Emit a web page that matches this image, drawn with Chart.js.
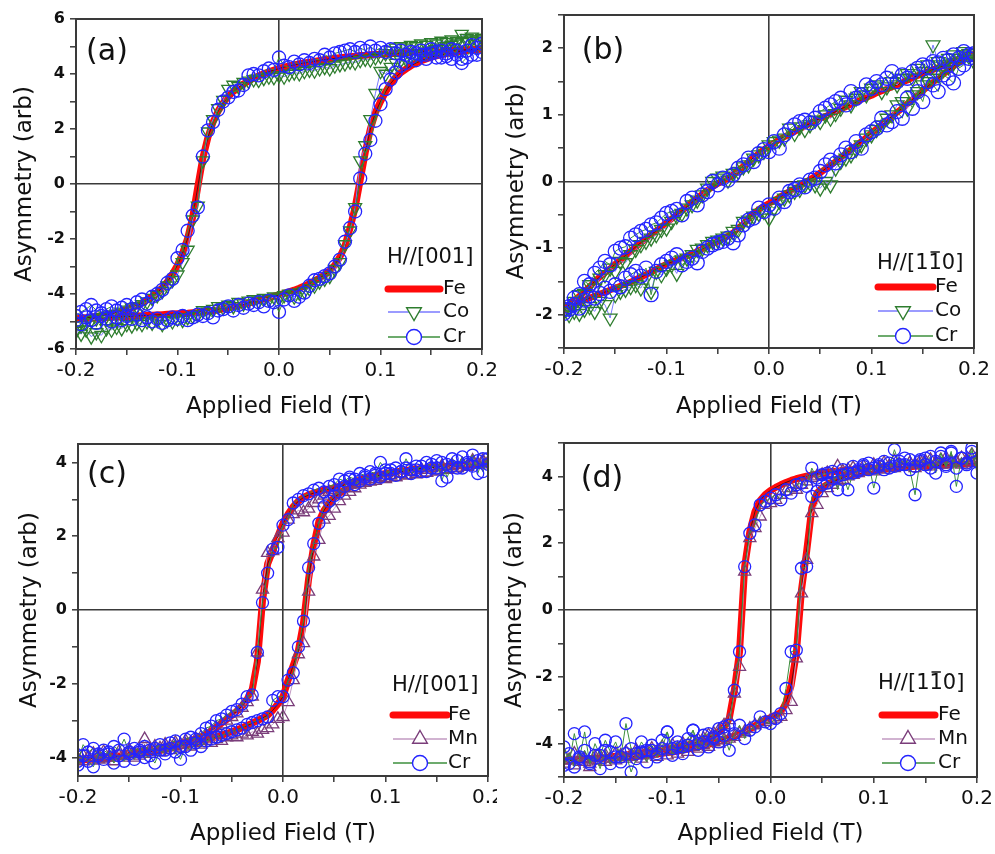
<!DOCTYPE html>
<html>
<head>
<meta charset="utf-8">
<title>Hysteresis loops</title>
<script src="https://cdn.jsdelivr.net/npm/chart.js@4.4.0/dist/chart.umd.min.js"></script>
<style>
  html, body { margin: 0; padding: 0; background: #fff; }
  #page { position: relative; width: 995px; height: 854px; overflow: hidden; }
  #page canvas { position: absolute; }
</style>
</head>
<body>
<div id="page">
  <canvas id="chartA" width="497" height="420" style="left:0;top:0"></canvas>
  <canvas id="chartB" width="498" height="420" style="left:497px;top:0"></canvas>
  <canvas id="chartC" width="497" height="434" style="left:0;top:420px"></canvas>
  <canvas id="chartD" width="498" height="434" style="left:497px;top:420px"></canvas>
</div>
<script>
// ---- data: applied field grid (T), shared by every loop ----
const FIELD = [
  -0.2, -0.195, -0.19, -0.185, -0.18, -0.175, -0.17, -0.165, -0.16,
  -0.155, -0.15, -0.145, -0.14, -0.135, -0.13, -0.125, -0.12, -0.115,
  -0.11, -0.105, -0.1, -0.095, -0.09, -0.085, -0.08, -0.075, -0.07,
  -0.065, -0.06, -0.055, -0.05, -0.045, -0.04, -0.035, -0.03, -0.025,
  -0.02, -0.015, -0.01, -0.005, 0, 0.005, 0.01, 0.015, 0.02,
  0.025, 0.03, 0.035, 0.04, 0.045, 0.05, 0.055, 0.06, 0.065,
  0.07, 0.075, 0.08, 0.085, 0.09, 0.095, 0.1, 0.105, 0.11,
  0.115, 0.12, 0.125, 0.13, 0.135, 0.14, 0.145, 0.15, 0.155,
  0.16, 0.165, 0.17, 0.175, 0.18, 0.185, 0.19, 0.195, 0.2
];

const X_TICKS = [-0.2, -0.15, -0.1, -0.05, 0, 0.05, 0.1, 0.15, 0.2];
const X_LABELS = [-0.2, -0.1, 0, 0.1, 0.2];
const Y_TICKS_A = [-6, -5, -4, -3, -2, -1, 0, 1, 2, 3, 4, 5, 6];
const Y_LABELS_A = [-6, -4, -2, 0, 2, 4, 6];
const Y_TICKS_B = [-2.5, -2, -1.5, -1, -0.5, 0, 0.5, 1, 1.5, 2, 2.5];
const Y_LABELS_B = [-2, -1, 0, 1, 2];
const Y_TICKS_C = [-4, -3, -2, -1, 0, 1, 2, 3, 4];
const Y_LABELS_C = [-4, -2, 0, 2, 4];
const Y_TICKS_D = [-5, -4, -3, -2, -1, 0, 1, 2, 3, 4, 5];
const Y_LABELS_D = [-4, -2, 0, 2, 4];

// "upper" = branch coming down from +0.2 T, "lower" = branch going up from -0.2 T
// both listed in the order of FIELD

// (a) H//[001]
const feUpperA = [
  -4.90, -4.88, -4.86, -4.84, -4.82, -4.79, -4.76, -4.72, -4.68,
  -4.63, -4.57, -4.50, -4.42, -4.33, -4.22, -4.10, -3.95, -3.77,
  -3.55, -3.28, -2.95, -2.52, -1.98, -1.20, -0.10, 0.95, 1.70,
  2.25, 2.65, 2.95, 3.18, 3.36, 3.51, 3.64, 3.75, 3.85,
  3.93, 4.01, 4.08, 4.14, 4.20, 4.25, 4.29, 4.33, 4.37,
  4.40, 4.43, 4.46, 4.49, 4.52, 4.55, 4.57, 4.59, 4.61,
  4.63, 4.65, 4.67, 4.68, 4.70, 4.71, 4.72, 4.73, 4.74,
  4.75, 4.76, 4.77, 4.78, 4.79, 4.80, 4.81, 4.82, 4.83,
  4.84, 4.85, 4.86, 4.87, 4.88, 4.88, 4.89, 4.90, 4.90
];
const feLowerA = [
  -4.90, -4.90, -4.89, -4.88, -4.88, -4.87, -4.86, -4.85, -4.84,
  -4.83, -4.82, -4.81, -4.80, -4.79, -4.78, -4.77, -4.76, -4.75,
  -4.74, -4.73, -4.72, -4.71, -4.70, -4.68, -4.67, -4.65, -4.63,
  -4.61, -4.58, -4.54, -4.50, -4.46, -4.42, -4.38, -4.33, -4.28,
  -4.23, -4.18, -4.13, -4.08, -4.03, -3.98, -3.92, -3.86, -3.79,
  -3.71, -3.62, -3.52, -3.42, -3.30, -3.15, -2.95, -2.65, -2.25,
  -1.60, -0.85, 0.15, 1.15, 2.00, 2.60, 3.00, 3.35, 3.65,
  3.88, 4.05, 4.18, 4.30, 4.40, 4.48, 4.55, 4.61, 4.66,
  4.70, 4.74, 4.77, 4.80, 4.83, 4.85, 4.87, 4.89, 4.90
];
const coUpperA = [
  -5.30, -5.15, -5.05, -4.95, -4.90, -4.85, -4.80, -4.75, -4.72,
  -4.65, -4.58, -4.50, -4.45, -4.38, -4.28, -4.15, -4.05, -3.90,
  -3.70, -3.50, -3.30, -2.85, -2.40, -1.30, -0.80, 0.85, 1.90,
  2.35, 2.75, 3.05, 3.45, 3.60, 3.55, 3.70, 3.75, 3.80,
  3.78, 3.85, 3.90, 3.88, 3.95, 3.90, 4.00, 4.05, 4.02,
  4.10, 4.15, 4.12, 4.20, 4.25, 4.20, 4.30, 4.35, 4.38,
  4.45, 4.42, 4.50, 4.55, 4.52, 4.60, 4.65, 4.75, 4.85,
  4.95, 5.00, 4.95, 5.05, 5.00, 5.10, 5.05, 5.15, 5.10,
  5.20, 5.15, 5.25, 5.20, 5.45, 5.30, 5.35, 5.25, 5.30
];
const coLowerA = [
  -5.35, -5.45, -5.30, -5.55, -5.40, -5.50, -5.25, -5.30, -5.20,
  -5.25, -5.10, -5.15, -5.05, -5.10, -5.00, -5.05, -4.95, -5.10,
  -4.95, -5.00, -4.90, -4.95, -4.85, -4.80, -4.75, -4.60, -4.65,
  -4.55, -4.45, -4.50, -4.40, -4.45, -4.30, -4.35, -4.25, -4.20,
  -4.25, -4.15, -4.20, -4.10, -4.15, -4.05, -4.00, -4.10, -3.95,
  -3.90, -3.80, -3.70, -3.55, -3.45, -3.35, -3.10, -2.85, -2.20,
  -1.70, -0.85, 0.85, 1.40, 2.35, 3.30, 4.10, 4.00, 4.25,
  4.40, 4.50, 4.55, 4.65, 4.70, 4.75, 4.80, 4.85, 4.90,
  4.95, 5.00, 5.05, 5.10, 5.15, 5.20, 5.25, 5.20, 5.30
];
const crUpperA = [
  -4.80, -4.65, -4.55, -4.40, -4.60, -4.70, -4.55, -4.45, -4.60,
  -4.50, -4.40, -4.55, -4.30, -4.20, -4.35, -4.10, -4.00, -3.85,
  -3.60, -3.45, -2.70, -2.40, -1.70, -1.15, -0.85, 1.00, 1.95,
  2.25, 2.70, 3.00, 3.15, 3.35, 3.40, 3.60, 3.95, 4.00,
  3.95, 4.10, 4.20, 4.15, 4.60, 4.30, 4.25, 4.45, 4.35,
  4.50, 4.40, 4.55, 4.50, 4.70, 4.60, 4.75, 4.80, 4.85,
  4.90, 4.80, 4.95, 4.85, 5.00, 4.85, 4.95, 4.80, 4.90,
  4.75, 4.85, 4.70, 4.80, 4.75, 4.85, 4.70, 4.90, 4.80,
  4.60, 4.75, 4.55, 4.85, 4.40, 4.60, 5.05, 4.70, 5.10
];
const crLowerA = [
  -4.95, -5.10, -4.85, -4.95, -5.05, -4.80, -4.90, -5.00, -4.85,
  -4.95, -4.80, -4.90, -4.75, -4.95, -4.85, -5.00, -4.90, -5.05,
  -4.95, -4.85, -4.90, -4.80, -4.95, -4.85, -4.75, -4.80, -4.70,
  -4.85, -4.60, -4.55, -4.45, -4.60, -4.40, -4.50, -4.35, -4.40,
  -4.30, -4.45, -4.25, -4.30, -4.65, -4.20, -4.05, -4.25, -4.10,
  -3.95, -3.70, -3.50, -3.45, -3.35, -3.25, -3.00, -2.75, -2.10,
  -1.60, -1.00, 0.20, 1.10, 1.60, 2.30, 2.90, 3.45, 3.80,
  4.05, 4.30, 4.40, 4.60, 4.50, 4.70, 4.55, 4.75, 4.60,
  4.85, 4.65, 4.90, 4.70, 4.55, 4.85, 4.70, 4.95, 4.80
];

// (b) H//[1-10]
const feUpperB = [
  -1.92, -1.86, -1.79, -1.72, -1.65, -1.58, -1.50, -1.43, -1.37,
  -1.31, -1.24, -1.18, -1.11, -1.05, -0.98, -0.92, -0.86, -0.80,
  -0.74, -0.68, -0.62, -0.56, -0.50, -0.44, -0.38, -0.31, -0.25,
  -0.19, -0.13, -0.08, -0.03, 0.01, 0.05, 0.10, 0.16, 0.23,
  0.29, 0.36, 0.42, 0.48, 0.53, 0.58, 0.63, 0.67, 0.71,
  0.75, 0.79, 0.83, 0.87, 0.91, 0.95, 0.98, 1.01, 1.05,
  1.09, 1.12, 1.16, 1.19, 1.23, 1.26, 1.29, 1.33, 1.36,
  1.39, 1.42, 1.45, 1.49, 1.52, 1.56, 1.59, 1.62, 1.65,
  1.68, 1.71, 1.74, 1.77, 1.81, 1.84, 1.87, 1.89, 1.91
];
const feLowerB = [
  -1.94, -1.90, -1.86, -1.82, -1.78, -1.75, -1.72, -1.69, -1.66,
  -1.63, -1.60, -1.57, -1.54, -1.51, -1.47, -1.44, -1.40, -1.36,
  -1.32, -1.28, -1.24, -1.21, -1.18, -1.15, -1.12, -1.09, -1.05,
  -1.01, -0.97, -0.93, -0.90, -0.86, -0.82, -0.77, -0.70, -0.64,
  -0.56, -0.48, -0.42, -0.37, -0.33, -0.29, -0.24, -0.19, -0.15,
  -0.11, -0.07, -0.02, 0.03, 0.08, 0.13, 0.19, 0.24, 0.30,
  0.36, 0.42, 0.48, 0.54, 0.60, 0.66, 0.73, 0.79, 0.85,
  0.91, 0.98, 1.04, 1.10, 1.17, 1.23, 1.30, 1.36, 1.43,
  1.49, 1.55, 1.61, 1.67, 1.73, 1.79, 1.84, 1.88, 1.91
];
const coUpperB = [
  -1.95, -1.90, -1.80, -1.70, -1.68, -1.55, -1.60, -1.45, -1.40,
  -1.30, -1.35, -1.20, -1.22, -1.10, -1.02, -0.95, -0.90, -0.85,
  -0.80, -0.72, -0.70, -0.60, -0.52, -0.48, -0.40, -0.35, -0.28,
  -0.20, -0.10, 0.00, 0.05, 0.08, 0.02, 0.12, 0.15, 0.22,
  0.25, 0.35, 0.40, 0.45, 0.55, 0.60, 0.62, 0.65, 0.80,
  0.72, 0.82, 0.78, 0.85, 0.92, 0.90, 1.00, 0.95, 1.02,
  1.10, 1.22, 1.15, 1.25, 1.35, 1.30, 1.40, 1.45, 1.35,
  1.42, 1.50, 1.45, 1.55, 1.62, 1.55, 1.70, 1.65, 1.75,
  2.05, 1.80, 1.75, 1.85, 1.90, 1.85, 1.95, 1.92, 1.80
];
const coLowerB = [
  -1.95, -2.00, -1.95, -1.98, -1.92, -1.88, -1.95, -1.80, -1.85,
  -2.05, -1.70, -1.65, -1.62, -1.58, -1.55, -1.60, -1.45, -1.65,
  -1.35, -1.40, -1.30, -1.25, -1.38, -1.18, -1.15, -1.10, -1.02,
  -1.00, -0.95, -0.90, -0.88, -0.85, -0.82, -0.75, -0.72, -0.60,
  -0.58, -0.52, -0.48, -0.45, -0.55, -0.40, -0.30, -0.25, -0.20,
  -0.15, -0.12, -0.05, -0.02, -0.05, -0.10, 0.00, -0.05, 0.20,
  0.30, 0.35, 0.40, 0.48, 0.55, 0.65, 0.70, 0.78, 0.85,
  0.95, 1.00, 1.15, 1.20, 1.10, 1.30, 1.35, 1.45, 1.50,
  1.55, 1.60, 1.68, 1.72, 1.78, 1.85, 1.90, 1.88, 1.92
];
const crUpperB = [
  -1.92, -1.88, -1.75, -1.70, -1.50, -1.55, -1.38, -1.30, -1.20,
  -1.25, -1.05, -1.00, -0.98, -0.85, -0.80, -0.75, -0.72, -0.65,
  -0.62, -0.55, -0.48, -0.45, -0.42, -0.50, -0.30, -0.25, -0.35,
  -0.20, -0.15, 0.00, -0.05, 0.05, 0.02, 0.10, 0.20, 0.25,
  0.35, 0.30, 0.42, 0.48, 0.45, 0.60, 0.50, 0.70, 0.78,
  0.85, 0.90, 0.92, 0.88, 0.95, 1.05, 1.10, 1.15, 1.20,
  1.25, 1.15, 1.35, 1.25, 1.30, 1.45, 1.40, 1.50, 1.45,
  1.55, 1.65, 1.50, 1.60, 1.55, 1.65, 1.70, 1.75, 1.72,
  1.80, 1.78, 1.85, 1.82, 1.90, 1.85, 1.95, 1.90, 1.92
];
const crLowerB = [
  -1.98, -1.92, -1.85, -1.90, -1.78, -1.72, -1.75, -1.68, -1.60,
  -1.65, -1.55, -1.58, -1.45, -1.40, -1.35, -1.42, -1.30, -1.70,
  -1.35, -1.25, -1.20, -1.15, -1.10, -1.25, -1.20, -1.15, -1.22,
  -1.05, -1.00, -0.95, -0.92, -0.90, -0.85, -0.92, -0.80, -0.65,
  -0.58, -0.55, -0.40, -0.45, -0.35, -0.40, -0.25, -0.30, -0.15,
  -0.12, -0.05, -0.08, 0.02, 0.05, 0.15, 0.25, 0.32, 0.28,
  0.40, 0.50, 0.45, 0.60, 0.50, 0.70, 0.75, 0.80, 0.95,
  0.85, 0.90, 1.05, 0.95, 1.25, 1.10, 1.35, 1.20, 1.50,
  1.45, 1.35, 1.60, 1.55, 1.48, 1.70, 1.75, 1.85, 1.90
];

// (c) H//[001]
const feUpperC = [
  -4.05, -4.04, -4.03, -4.02, -4.01, -4.00, -3.98, -3.96, -3.94,
  -3.91, -3.88, -3.86, -3.84, -3.82, -3.80, -3.78, -3.75, -3.72,
  -3.69, -3.66, -3.62, -3.58, -3.54, -3.49, -3.44, -3.37, -3.28,
  -3.18, -3.07, -2.97, -2.86, -2.74, -2.60, -2.42, -2.15, -1.40,
  0.25, 1.25, 1.60, 2.00, 2.35, 2.60, 2.80, 2.95, 3.05,
  3.12, 3.17, 3.21, 3.25, 3.28, 3.31, 3.35, 3.39, 3.44,
  3.48, 3.52, 3.56, 3.60, 3.63, 3.66, 3.69, 3.72, 3.74,
  3.76, 3.78, 3.80, 3.82, 3.83, 3.85, 3.86, 3.87, 3.88,
  3.89, 3.90, 3.91, 3.92, 3.93, 3.94, 3.95, 3.96, 3.97
];
const feLowerC = [
  -4.07, -4.06, -4.05, -4.04, -4.03, -4.02, -4.01, -3.99, -3.97,
  -3.95, -3.93, -3.91, -3.89, -3.87, -3.85, -3.83, -3.81, -3.78,
  -3.75, -3.72, -3.69, -3.66, -3.63, -3.60, -3.56, -3.52, -3.48,
  -3.44, -3.40, -3.35, -3.30, -3.25, -3.19, -3.13, -3.07, -3.00,
  -2.93, -2.85, -2.72, -2.55, -2.35, -1.90, -1.50, -1.10, -0.35,
  0.85, 1.75, 2.40, 2.70, 2.90, 3.05, 3.16, 3.25, 3.33,
  3.40, 3.47, 3.54, 3.60, 3.64, 3.67, 3.70, 3.72, 3.74,
  3.76, 3.78, 3.80, 3.82, 3.83, 3.85, 3.86, 3.87, 3.88,
  3.89, 3.90, 3.91, 3.92, 3.93, 3.94, 3.95, 3.96, 3.97
];
const mnUpperC = [
  -4.05, -3.95, -4.00, -3.90, -4.05, -3.85, -4.00, -3.95, -3.85,
  -3.95, -3.80, -3.90, -3.85, -3.50, -3.80, -3.70, -3.75, -3.65,
  -3.70, -3.60, -3.65, -3.55, -3.60, -3.50, -3.45, -3.40, -3.30,
  -3.20, -3.10, -3.00, -2.90, -2.80, -2.65, -2.50, -2.35, -1.15,
  0.55, 1.55, 1.60, 1.95, 2.10, 2.45, 2.60, 2.70, 2.65,
  2.75, 2.90, 3.00, 3.10, 3.20, 3.25, 3.30, 3.35, 3.40,
  3.42, 3.45, 3.50, 3.48, 3.55, 3.60, 3.58, 3.65, 3.60,
  3.70, 3.65, 3.75, 3.70, 3.80, 3.72, 3.85, 3.78, 3.90,
  3.82, 3.92, 3.85, 3.95, 3.88, 4.05, 3.95, 4.00, 3.95
];
const mnLowerC = [
  -4.05, -4.10, -4.00, -4.08, -3.95, -4.05, -4.00, -4.10, -3.95,
  -4.00, -3.90, -4.00, -3.95, -3.85, -3.90, -3.80, -3.85, -3.75,
  -3.80, -3.70, -3.75, -3.65, -3.70, -3.60, -3.65, -3.55, -3.60,
  -3.50, -3.55, -3.45, -3.40, -3.45, -3.35, -3.40, -3.30, -3.35,
  -3.25, -3.20, -3.10, -2.95, -2.90, -2.50, -1.90, -1.20, -0.90,
  0.50, 1.45, 1.90, 2.45, 2.55, 2.75, 2.95, 3.10, 3.20,
  3.30, 3.40, 3.45, 3.55, 3.50, 3.60, 3.55, 3.65, 3.60,
  3.70, 3.65, 3.75, 3.68, 3.80, 3.72, 3.85, 3.75, 3.88,
  3.80, 3.90, 3.85, 3.95, 3.90, 4.00, 3.95, 4.05, 4.00
];
const crUpperC = [
  -4.10, -3.65, -3.85, -3.75, -3.95, -3.80, -3.90, -3.70, -3.80,
  -3.50, -3.85, -3.75, -3.80, -3.70, -3.80, -3.75, -3.65, -3.80,
  -3.60, -3.55, -3.70, -3.50, -3.45, -3.50, -3.35, -3.20, -3.15,
  -3.00, -2.95, -2.85, -2.75, -2.70, -2.55, -2.35, -2.30, -1.15,
  0.20, 1.00, 1.65, 1.70, 2.30, 2.45, 2.90, 3.00, 3.10,
  3.15, 3.25, 3.30, 3.20, 3.35, 3.40, 3.55, 3.50, 3.60,
  3.55, 3.70, 3.65, 3.75, 3.70, 4.00, 3.80, 3.70, 3.85,
  3.75, 4.10, 3.80, 3.90, 3.75, 4.00, 3.85, 4.05, 3.50,
  3.95, 4.10, 3.85, 4.15, 3.95, 4.20, 3.70, 4.10, 3.95
];
const crLowerC = [
  -4.20, -3.95, -4.10, -4.25, -3.90, -4.05, -3.85, -4.15, -3.95,
  -4.10, -3.90, -4.05, -3.85, -4.00, -3.95, -4.15, -3.80, -3.90,
  -3.75, -3.85, -4.05, -3.70, -3.80, -3.60, -3.70, -3.55, -3.50,
  -3.45, -3.40, -3.35, -3.30, -3.25, -3.20, -3.10, -3.05, -3.00,
  -2.95, -2.90, -2.45, -2.35, -2.35, -1.90, -1.70, -1.00, -0.30,
  1.15, 1.80, 2.35, 2.80, 2.95, 3.10, 3.20, 3.35, 3.55,
  3.40, 3.50, 3.60, 3.55, 3.65, 3.60, 3.70, 3.80, 3.65,
  3.75, 3.85, 3.70, 3.80, 3.90, 3.75, 3.95, 3.85, 4.00,
  3.60, 3.90, 4.05, 3.85, 4.00, 3.90, 4.05, 3.75, 4.10
];

// (d) H//[1-10]
const feUpperD = [
  -4.50, -4.49, -4.48, -4.47, -4.46, -4.45, -4.44, -4.43, -4.42,
  -4.40, -4.38, -4.36, -4.34, -4.32, -4.30, -4.28, -4.26, -4.24,
  -4.22, -4.20, -4.17, -4.14, -4.11, -4.08, -4.04, -4.00, -3.95,
  -3.89, -3.82, -3.74, -3.64, -3.50, -3.25, -2.40, -1.25, 1.30,
  2.35, 2.95, 3.28, 3.46, 3.58, 3.67, 3.75, 3.82, 3.88,
  3.93, 3.97, 4.01, 4.04, 4.07, 4.10, 4.12, 4.14, 4.16,
  4.18, 4.19, 4.20, 4.21, 4.22, 4.23, 4.24, 4.25, 4.26,
  4.27, 4.28, 4.29, 4.29, 4.30, 4.31, 4.32, 4.32, 4.33,
  4.34, 4.35, 4.35, 4.36, 4.37, 4.37, 4.38, 4.38, 4.39
];
const feLowerD = [
  -4.52, -4.51, -4.50, -4.49, -4.48, -4.47, -4.46, -4.45, -4.44,
  -4.43, -4.42, -4.41, -4.40, -4.39, -4.38, -4.37, -4.35, -4.33,
  -4.31, -4.29, -4.27, -4.25, -4.22, -4.19, -4.16, -4.13, -4.10,
  -4.06, -4.02, -3.98, -3.93, -3.88, -3.83, -3.77, -3.71, -3.64,
  -3.56, -3.47, -3.38, -3.30, -3.22, -3.15, -3.07, -2.78, -2.25,
  -1.30, 0.60, 1.75, 3.05, 3.50, 3.66, 3.76, 3.84, 3.90,
  3.96, 4.01, 4.05, 4.09, 4.12, 4.15, 4.18, 4.20, 4.22,
  4.24, 4.26, 4.27, 4.28, 4.29, 4.30, 4.31, 4.32, 4.33,
  4.34, 4.35, 4.35, 4.36, 4.37, 4.37, 4.38, 4.38, 4.39
];
const mnUpperD = [
  -4.35, -4.50, -4.30, -4.55, -4.45, -4.60, -4.40, -4.50, -4.35,
  -4.45, -4.30, -4.40, -4.25, -4.35, -4.20, -4.30, -4.25, -4.15,
  -4.25, -4.10, -4.20, -4.05, -4.15, -4.00, -4.05, -3.95, -3.90,
  -3.85, -3.75, -3.70, -3.60, -3.45, -3.30, -2.50, -1.70, 1.15,
  2.15, 2.45, 2.80, 3.15, 3.20, 3.30, 3.45, 3.55, 3.65,
  3.60, 3.75, 3.85, 3.95, 4.00, 4.05, 4.10, 4.05, 4.30,
  4.15, 4.20, 4.25, 4.15, 4.30, 4.20, 4.35, 4.25, 4.40,
  4.30, 4.45, 4.35, 4.30, 4.40, 4.35, 4.45, 4.30, 4.50,
  4.40, 4.35, 4.55, 4.40, 4.45, 4.35, 4.50, 4.65, 4.45
];
const mnLowerD = [
  -4.60, -4.50, -4.65, -4.45, -4.55, -4.70, -4.50, -4.40, -4.55,
  -4.45, -4.50, -4.35, -4.45, -4.40, -4.30, -4.45, -4.35, -4.30,
  -4.40, -4.25, -4.35, -4.20, -4.30, -4.15, -4.25, -4.10, -4.15,
  -4.05, -4.10, -3.95, -4.00, -3.90, -3.85, -3.80, -3.70, -3.65,
  -3.55, -3.45, -3.40, -3.35, -3.30, -3.25, -3.20, -3.00, -2.75,
  -1.45, 0.50, 1.50, 2.90, 3.15, 3.50, 3.65, 3.75, 3.85,
  3.90, 4.00, 4.05, 4.10, 4.15, 4.20, 4.15, 4.25, 4.20,
  4.30, 4.25, 4.35, 4.30, 4.40, 4.25, 4.35, 4.45, 4.30,
  4.40, 4.50, 4.35, 4.45, 4.40, 4.55, 4.45, 4.40, 4.50
];
const crUpperD = [
  -4.10, -4.60, -3.70, -4.40, -4.20, -4.55, -4.00, -4.35, -3.90,
  -4.25, -3.95, -4.40, -3.40, -4.15, -4.30, -3.95, -4.20, -4.05,
  -4.30, -3.90, -3.65, -4.15, -3.95, -4.10, -3.85, -3.60, -4.00,
  -3.75, -3.70, -3.80, -3.55, -3.50, -3.45, -2.40, -1.25, 1.30,
  2.30, 2.55, 3.15, 3.25, 3.35, 3.45, 3.30, 3.60, 3.50,
  3.75, 3.80, 3.70, 4.25, 3.95, 4.05, 4.10, 4.15, 3.60,
  4.20, 4.10, 4.30, 4.20, 4.35, 4.40, 3.65, 4.30, 4.45,
  4.25, 4.80, 4.35, 4.55, 4.20, 3.45, 4.50, 4.35, 4.60,
  4.10, 4.70, 4.30, 4.75, 3.70, 4.55, 4.35, 4.85, 4.10
];
const crLowerD = [
  -4.65, -4.30, -4.70, -4.45, -3.65, -4.60, -4.35, -4.75, -4.20,
  -4.60, -4.40, -4.55, -4.30, -4.85, -4.45, -4.25, -4.55, -4.20,
  -4.40, -4.15, -3.65, -4.35, -4.10, -4.30, -4.05, -3.60, -4.20,
  -3.95, -4.10, -3.85, -3.95, -3.75, -4.20, -3.70, -3.45, -3.85,
  -3.60, -3.50, -3.20, -3.35, -3.40, -3.25, -3.10, -2.35, -1.25,
  -1.20, 1.25, 1.30, 3.40, 3.55, 3.75, 3.80, 3.95, 4.00,
  4.05, 3.60, 4.10, 4.15, 4.30, 4.20, 4.25, 4.35, 4.20,
  4.40, 4.30, 4.45, 4.35, 4.50, 4.30, 4.45, 4.55, 4.25,
  4.45, 4.60, 4.35, 4.70, 4.25, 4.55, 4.40, 4.75, 4.45
];

// ---- styling ----
const FONT = '"DejaVu Sans", Arial, sans-serif';
const TEXT = '#111';
const AXIS = '#3a3a3a';
const RED = '#ff0a0a';
const GREEN = '#2e7d2e';
const BLUE = '#2424ff';
const BLUE_LINE = '#7a7aff';
const GREEN_LINE = '#3d8f3d';
const PURPLE = '#7a3d7a';
const PURPLE_LINE = '#c29ac2';

// lower branch up the field, then the upper branch back down
function loop(lower, upper) {
    const pts = FIELD.map((x, i) => ({ x: x, y: lower[i] }));
    for (let i = FIELD.length - 1; i >= 0; i--) {
        pts.push({ x: FIELD[i], y: upper[i] });
    }
    return pts;
}

function markerPath(ctx, style, x, y, r) {
    ctx.beginPath();
    if (style === 'circle') {
        ctx.arc(x, y, r, 0, Math.PI * 2);
    } else if (style === 'down') {
        ctx.moveTo(x, y + r);
        ctx.lineTo(x - 0.866 * r, y - 0.5 * r);
        ctx.lineTo(x + 0.866 * r, y - 0.5 * r);
        ctx.closePath();
    } else {
        ctx.moveTo(x, y - r);
        ctx.lineTo(x + 0.866 * r, y + 0.5 * r);
        ctx.lineTo(x - 0.866 * r, y + 0.5 * r);
        ctx.closePath();
    }
}

// frame, panel letter and the legend block
function decor(p) {
    return {
        id: 'decor',
        afterDraw(chart) {
            const ctx = chart.ctx;
            const a = chart.chartArea;
            ctx.save();
            ctx.strokeStyle = AXIS;
            ctx.lineWidth = 2;
            ctx.strokeRect(a.left, a.top, a.right - a.left, a.bottom - a.top);

            ctx.fillStyle = TEXT;
            ctx.textBaseline = 'middle';
            ctx.textAlign = 'center';
            ctx.font = '30px ' + FONT;
            ctx.fillText(p.tag, p.tagX, p.tagY);

            const L = p.legend;
            ctx.textAlign = 'left';
            ctx.font = '21px ' + FONT;
            ctx.fillText(p.legendTitle, L.titleX, L.titleY);
            if (p.barOver != null) {
                const pre = ctx.measureText(p.legendTitle.slice(0, p.barOver)).width;
                const w = ctx.measureText(p.legendTitle.charAt(p.barOver)).width;
                ctx.beginPath();
                ctx.strokeStyle = TEXT;
                ctx.lineWidth = 1.5;
                ctx.moveTo(L.titleX + pre + 2, L.titleY - 12);
                ctx.lineTo(L.titleX + pre + w - 2, L.titleY - 12);
                ctx.stroke();
            }

            ctx.font = '20px ' + FONT;
            p.series.forEach((s, i) => {
                const y = L.rows[i];
                ctx.beginPath();
                if (s.kind === 'fe') {
                    ctx.strokeStyle = RED;
                    ctx.lineWidth = 7;
                    ctx.lineCap = 'round';
                } else {
                    ctx.strokeStyle = s.lineColor;
                    ctx.lineWidth = 1.3;
                    ctx.lineCap = 'butt';
                }
                ctx.moveTo(L.lineX1, y);
                ctx.lineTo(L.lineX2, y);
                ctx.stroke();
                if (s.kind !== 'fe') {
                    markerPath(ctx, s.style, L.markX, y, s.style === 'circle' ? 7.5 : 8.5);
                    ctx.fillStyle = '#fff';
                    ctx.fill();
                    ctx.strokeStyle = s.markerColor;
                    ctx.lineWidth = 1.4;
                    ctx.stroke();
                }
                ctx.fillStyle = TEXT;
                ctx.fillText(s.label, L.textX, y);
            });
            ctx.restore();
        }
    };
}

function makeChart(p) {
    const canvas = document.getElementById(p.id);
    const W = canvas.width;
    const H = canvas.height;

    const datasets = [];
    // first dataset is drawn on top, so markers go first and Fe last
    p.series.slice().reverse().forEach(s => {
        if (s.kind === 'fe') {
            datasets.push({
                label: s.label + ' fit',
                data: loop(s.lower, s.upper),
                showLine: true,
                borderColor: 'rgba(20,20,20,0.75)',
                borderWidth: 1,
                pointRadius: 0,
                pointHoverRadius: 0
            });
            datasets.push({
                label: s.label,
                data: loop(s.lower, s.upper),
                showLine: true,
                borderColor: RED,
                borderWidth: p.feWidth,
                borderJoinStyle: 'round',
                borderCapStyle: 'round',
                pointRadius: 0,
                pointHoverRadius: 0
            });
        } else {
            const r = s.style === 'circle' ? p.circleR : p.triR;
            datasets.push({
                label: s.label,
                data: loop(s.lower, s.upper),
                showLine: true,
                borderColor: s.lineColor,
                borderWidth: 1,
                pointStyle: s.style === 'circle' ? 'circle' : 'triangle',
                pointRotation: s.style === 'down' ? 180 : 0,
                pointRadius: r,
                pointHoverRadius: r,
                pointBorderColor: s.markerColor,
                pointBackgroundColor: 'rgba(0,0,0,0)',
                pointBorderWidth: 1.3
            });
        }
    });

    return new Chart(canvas, {
        type: 'scatter',
        data: { datasets: datasets },
        options: {
            responsive: false,
            animation: false,
            devicePixelRatio: 1,
            layout: { padding: { left: 0, top: p.box.top, right: W - p.box.right, bottom: 0 } },
            plugins: { legend: { display: false }, tooltip: { enabled: false } },
            scales: {
                x: {
                    type: 'linear',
                    min: -0.2,
                    max: 0.2,
                    afterBuildTicks: s => { s.ticks = X_TICKS.map(v => ({ value: v })); },
                    afterFit: s => { s.height = H - p.box.bottom; s.paddingLeft = 0; s.paddingRight = 0; },
                    ticks: {
                        autoSkip: false,
                        maxRotation: 0,
                        padding: 4,
                        color: TEXT,
                        font: { family: FONT, size: 20 },
                        callback: v => X_LABELS.includes(v) ? v.toFixed(1) : ''
                    },
                    grid: {
                        color: c => (c.tick && c.tick.value === 0) ? AXIS : 'rgba(0,0,0,0)',
                        lineWidth: 1.6,
                        tickLength: 6,
                        tickColor: AXIS,
                        tickWidth: 1.5
                    },
                    border: { display: false },
                    title: {
                        display: true,
                        text: 'Applied Field (T)',
                        color: TEXT,
                        font: { family: FONT, size: 23, lineHeight: 1 },
                        padding: { top: 0, bottom: p.xTitlePad }
                    }
                },
                y: {
                    type: 'linear',
                    min: p.yMin,
                    max: p.yMax,
                    afterBuildTicks: s => { s.ticks = p.yTicks.map(v => ({ value: v })); },
                    afterFit: s => { s.width = p.box.left; s.paddingTop = 0; s.paddingBottom = 0; },
                    ticks: {
                        autoSkip: false,
                        padding: 5,
                        color: TEXT,
                        font: { family: FONT, size: 16, weight: 'bold' },
                        callback: v => p.yLabels.includes(v) ? String(v) : ''
                    },
                    grid: {
                        color: c => (c.tick && c.tick.value === 0) ? AXIS : 'rgba(0,0,0,0)',
                        lineWidth: 1.6,
                        tickLength: 6,
                        tickColor: AXIS,
                        tickWidth: 1.5
                    },
                    border: { display: false },
                    title: {
                        display: true,
                        text: 'Asymmetry (arb)',
                        color: TEXT,
                        font: { family: FONT, size: 23, lineHeight: 1 },
                        padding: { top: p.yTitlePad, bottom: 0 }
                    }
                }
            }
        },
        plugins: [decor(p)]
    });
}

makeChart({
    id: 'chartA', tag: '(a)', tagX: 107, tagY: 52,
    box: { left: 76, right: 482, top: 19, bottom: 349 },
    yMin: -6, yMax: 6, yTicks: Y_TICKS_A, yLabels: Y_LABELS_A,
    xTitlePad: 1.5, yTitlePad: 13.5,
    feWidth: 7, circleR: 6.5, triR: 7.5,
    legendTitle: 'H//[001]', barOver: null,
    legend: { titleX: 387, titleY: 258, lineX1: 388, lineX2: 440, markX: 414, textX: 443, rows: [289, 312, 337] },
    series: [
        { label: 'Fe', kind: 'fe', lower: feLowerA, upper: feUpperA },
        { label: 'Co', kind: 'marker', style: 'down', markerColor: GREEN, lineColor: BLUE_LINE, lower: coLowerA, upper: coUpperA },
        { label: 'Cr', kind: 'marker', style: 'circle', markerColor: BLUE, lineColor: GREEN_LINE, lower: crLowerA, upper: crUpperA }
    ]
});

makeChart({
    id: 'chartB', tag: '(b)', tagX: 106, tagY: 51,
    box: { left: 67, right: 477, top: 15, bottom: 348 },
    yMin: -2.5, yMax: 2.5, yTicks: Y_TICKS_B, yLabels: Y_LABELS_B,
    xTitlePad: 1.5, yTitlePad: 8.5,
    feWidth: 6.5, circleR: 7, triR: 8,
    legendTitle: 'H//[110]', barOver: 5,
    legend: { titleX: 380, titleY: 264, lineX1: 381, lineX2: 436, markX: 406, textX: 438, rows: [287, 311, 336] },
    series: [
        { label: 'Fe', kind: 'fe', lower: feLowerB, upper: feUpperB },
        { label: 'Co', kind: 'marker', style: 'down', markerColor: GREEN, lineColor: BLUE_LINE, lower: coLowerB, upper: coUpperB },
        { label: 'Cr', kind: 'marker', style: 'circle', markerColor: BLUE, lineColor: GREEN_LINE, lower: crLowerB, upper: crUpperB }
    ]
});

makeChart({
    id: 'chartC', tag: '(c)', tagX: 107, tagY: 55,
    box: { left: 78, right: 488, top: 24, bottom: 356 },
    yMin: -4.5, yMax: 4.5, yTicks: Y_TICKS_C, yLabels: Y_LABELS_C,
    xTitlePad: 8.5, yTitlePad: 18.5,
    feWidth: 7, circleR: 6, triR: 7,
    legendTitle: 'H//[001]', barOver: null,
    legend: { titleX: 392, titleY: 266, lineX1: 393, lineX2: 447, markX: 420, textX: 448, rows: [295, 319, 343] },
    series: [
        { label: 'Fe', kind: 'fe', lower: feLowerC, upper: feUpperC },
        { label: 'Mn', kind: 'marker', style: 'up', markerColor: PURPLE, lineColor: PURPLE_LINE, lower: mnLowerC, upper: mnUpperC },
        { label: 'Cr', kind: 'marker', style: 'circle', markerColor: BLUE, lineColor: GREEN_LINE, lower: crLowerC, upper: crUpperC }
    ]
});

makeChart({
    id: 'chartD', tag: '(d)', tagX: 105, tagY: 59,
    box: { left: 67, right: 480, top: 23, bottom: 357 },
    yMin: -5, yMax: 5, yTicks: Y_TICKS_D, yLabels: Y_LABELS_D,
    xTitlePad: 8.5, yTitlePad: 6.5,
    feWidth: 7, circleR: 6, triR: 7,
    legendTitle: 'H//[110]', barOver: 5,
    legend: { titleX: 381, titleY: 264, lineX1: 385, lineX2: 438, markX: 411, textX: 441, rows: [295, 319, 343] },
    series: [
        { label: 'Fe', kind: 'fe', lower: feLowerD, upper: feUpperD },
        { label: 'Mn', kind: 'marker', style: 'up', markerColor: PURPLE, lineColor: PURPLE_LINE, lower: mnLowerD, upper: mnUpperD },
        { label: 'Cr', kind: 'marker', style: 'circle', markerColor: BLUE, lineColor: GREEN_LINE, lower: crLowerD, upper: crUpperD }
    ]
});
</script>
</body>
</html>
